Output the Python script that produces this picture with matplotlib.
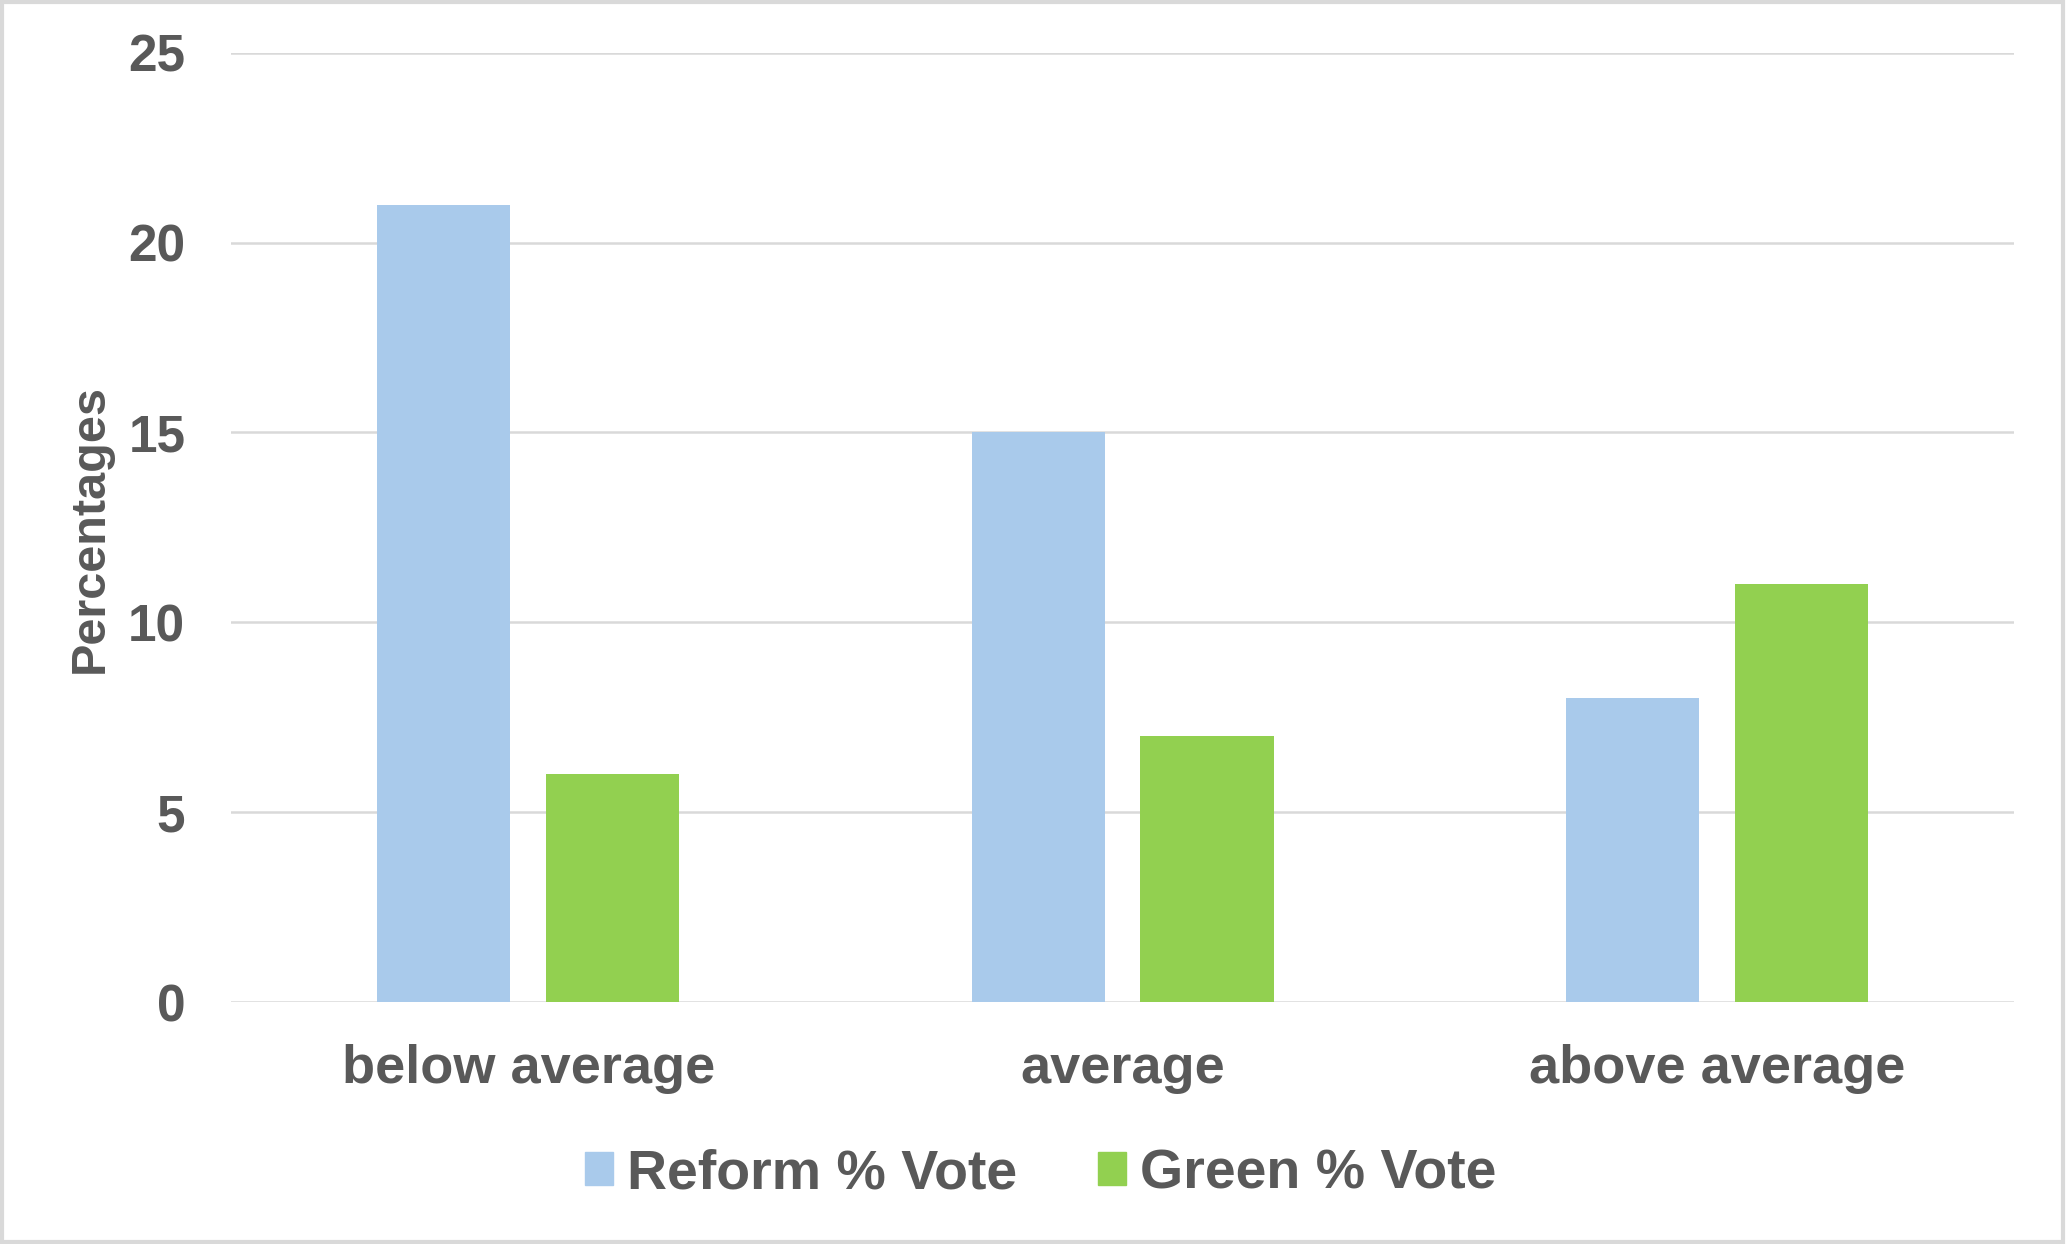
import numpy as np
import matplotlib.pyplot as plt
from matplotlib.patches import Rectangle, Patch

# Data
categories = ['below average', 'average', 'above average']
reform_vote = [21, 15, 8]
green_vote = [6, 7, 11]
series_names = ['Reform % Vote', 'Green % Vote']
yticks = [0, 5, 10, 15, 20, 25]

blue = '#A9CAEB'
green = '#92D050'
text_col = '#595959'
grid_col = '#D9D9D9'

plt.rcParams['font.family'] = ['Liberation Sans', 'DejaVu Sans']
plt.rcParams['font.weight'] = 'bold'

fig = plt.figure(figsize=(20.67, 12.44), dpi=100)
ax = fig.add_axes([0.1118, 0.1945, 0.8626, 0.7631])

x = np.arange(len(categories))
w = 0.224
off = 0.142
ax.bar(x - off, reform_vote, width=w, color=blue, zorder=3)
ax.bar(x + off, green_vote, width=w, color=green, zorder=3)

ax.set_xlim(-0.5, len(categories) - 0.5)
ax.set_ylim(0, 25)
ax.set_yticks(yticks)
ax.set_xticks(x)
ax.set_xticklabels(categories)
ax.yaxis.grid(True, color=grid_col, linewidth=1.8, zorder=0)
ax.set_axisbelow(True)
for s in ax.spines.values():
    s.set_visible(False)
ax.tick_params(axis='both', length=0, colors=text_col)
ax.tick_params(axis='y', labelsize=37, pad=33)
ax.tick_params(axis='x', labelsize=39, pad=30)
for lbl in ax.get_xticklabels() + ax.get_yticklabels():
    lbl.set_fontweight('bold')

fig.text(0.0435, 0.5755, 'Percentages', rotation=90, fontsize=35,
         fontweight='bold', color=text_col, ha='center', va='center')

handles = [Patch(color=blue), Patch(color=green)]
leg = fig.legend(handles, series_names, loc='center', bbox_to_anchor=(0.5035, 0.056),
                 ncol=2, frameon=False, fontsize=40, handlelength=0.5,
                 handleheight=0.55, handletextpad=0.26, columnspacing=1.45)
for t in leg.get_texts():
    t.set_color(text_col)
    t.set_fontweight('bold')

# light frame round the whole chart
fig.patches.append(Rectangle((0.001, 0.002), 0.997, 0.996, transform=fig.transFigure,
                             fill=False, edgecolor=grid_col, linewidth=3))

plt.savefig('out.png', dpi=100)
